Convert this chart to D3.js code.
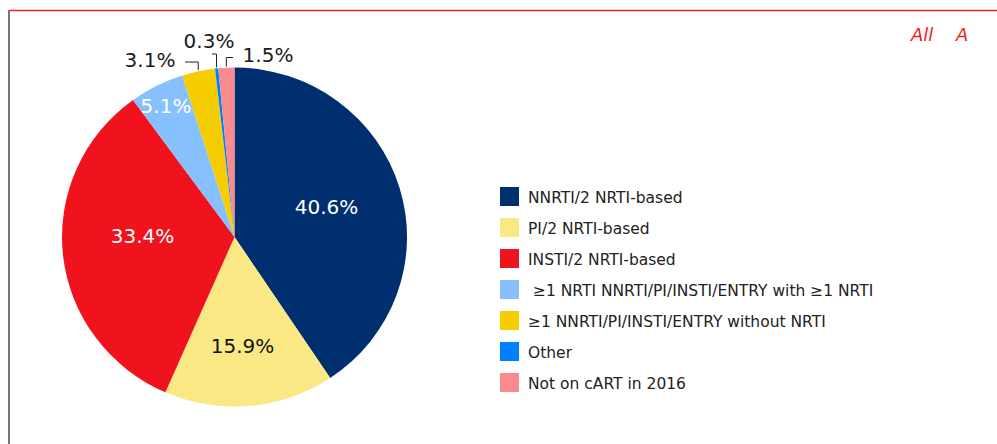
<!DOCTYPE html>
<html>
<head>
<meta charset="utf-8">
<script src="https://cdn.jsdelivr.net/npm/d3@7"></script>
<style>
  body { margin: 0; background: #fff; }
  svg { display: block; font-family: "DejaVu Sans", Verdana, sans-serif; }
  .legend text { white-space: pre; }
</style>
</head>
<body>
<svg id="chart"></svg>
<script>
// regimen shares, read clockwise from 12 o'clock
var categories = ['NNRTI/2 NRTI-based', 'PI/2 NRTI-based', 'INSTI/2 NRTI-based',
                  ' \u22651 NRTI NNRTI/PI/INSTI/ENTRY with \u22651 NRTI',
                  '\u22651 NNRTI/PI/INSTI/ENTRY without NRTI', 'Other', 'Not on cART in 2016'];
var shares = [40.6, 15.9, 33.4, 5.1, 3.1, 0.3, 1.5];
var sliceColors = ['#002f6f', '#fae884', '#f0131d', '#87c0ff', '#f5cd00', '#0080ff', '#f98b8f'];
var panelTags = ['All', 'A'];

var width = 997, height = 444;
var cx = 234.5, cy = 237, rx = 172.5, ry = 169.5;

// label placement (offsets from pie centre) - labels inside the slice
var insideLabels = [
  { i: 0, dx: 92,   dy: -23,  fill: '#fff' },
  { i: 1, dx: 8,    dy: 116,  fill: '#111' },
  { i: 2, dx: -92,  dy: 6,    fill: '#fff' },
  { i: 3, dx: -68.5, dy: -124, fill: '#fff' }
];
// small slices get a label outside with a bent leader
var outsideLabels = [
  { i: 4, dx: -84.5, dy: -170, kneeDy: -175,   endDx: -49.5 },
  { i: 5, dx: -25.5, dy: -189, kneeDy: -183,   endDx: -22.5 },
  { i: 6, dx: 33.5,  dy: -175, kneeDy: -179.5, endDx: -1.5 }
];

var svg = d3.select('#chart').attr('width', width).attr('height', height);

// frame: red top rule, grey left rule
svg.append('line').attr('x1', 9).attr('x2', width).attr('y1', 10.5).attr('y2', 10.5)
   .attr('stroke', '#f01e23').attr('stroke-width', 1.3);
svg.append('line').attr('x1', 9).attr('x2', 9).attr('y1', 10).attr('y2', height)
   .attr('stroke', '#777').attr('stroke-width', 2);

svg.selectAll('text.tag')
   .data(panelTags)
   .enter().append('text')
   .attr('class', 'tag')
   .attr('x', function (d, i) { return i === 0 ? 911 : 956; })
   .attr('y', 41)
   .attr('font-size', 18)
   .attr('font-style', 'italic')
   .attr('fill', '#f01e23')
   .text(function (d) { return d; });

var pie = d3.pie().sort(null).value(function (d) { return d; });
var arcs = pie(shares);
var arc = d3.arc().innerRadius(0).outerRadius(rx);

var g = svg.append('g')
   .attr('transform', 'translate(' + cx + ',' + cy + ') scale(1,' + (ry / rx) + ')');

g.selectAll('path')
   .data(arcs)
   .enter().append('path')
   .attr('d', arc)
   .attr('fill', function (d, i) { return sliceColors[i]; });

var fmt = function (v) { return v.toFixed(1) + '%'; };

svg.selectAll('text.inlab')
   .data(insideLabels)
   .enter().append('text')
   .attr('class', 'inlab')
   .attr('x', function (d) { return cx + d.dx; })
   .attr('y', function (d) { return cy + d.dy; })
   .attr('text-anchor', 'middle')
   .attr('font-size', 20)
   .attr('fill', function (d) { return d.fill; })
   .text(function (d) { return fmt(shares[d.i]); });

function edgePoint(d) {
  var a = (d.startAngle + d.endAngle) / 2;
  return [cx + (rx + 1) * Math.sin(a), cy - (ry + 1) * Math.cos(a)];
}

svg.selectAll('path.leader')
   .data(outsideLabels)
   .enter().append('path')
   .attr('class', 'leader')
   .attr('fill', 'none')
   .attr('stroke', '#222')
   .attr('stroke-width', 1)
   .attr('d', function (d) {
     var p = edgePoint(arcs[d.i]);
     return d3.line()([p, [p[0], cy + d.kneeDy], [cx + d.endDx, cy + d.kneeDy]]);
   });

svg.selectAll('text.outlab')
   .data(outsideLabels)
   .enter().append('text')
   .attr('class', 'outlab')
   .attr('x', function (d) { return cx + d.dx; })
   .attr('y', function (d) { return cy + d.dy; })
   .attr('text-anchor', 'middle')
   .attr('font-size', 20)
   .attr('fill', '#1a1a1a')
   .text(function (d) { return fmt(shares[d.i]); });

// legend
var legendY = d3.scalePoint().domain(d3.range(categories.length)).range([187, 373]);
var legend = svg.append('g').attr('class', 'legend');
var row = legend.selectAll('g')
   .data(categories)
   .enter().append('g')
   .attr('transform', function (d, i) { return 'translate(500,' + legendY(i) + ')'; });
row.append('rect').attr('width', 19).attr('height', 19)
   .attr('fill', function (d, i) { return sliceColors[i]; });
row.append('text').attr('x', 28).attr('y', 16)
   .attr('font-size', 15.5).attr('fill', '#222')
   .text(function (d) { return d; });
</script>
</body>
</html>
